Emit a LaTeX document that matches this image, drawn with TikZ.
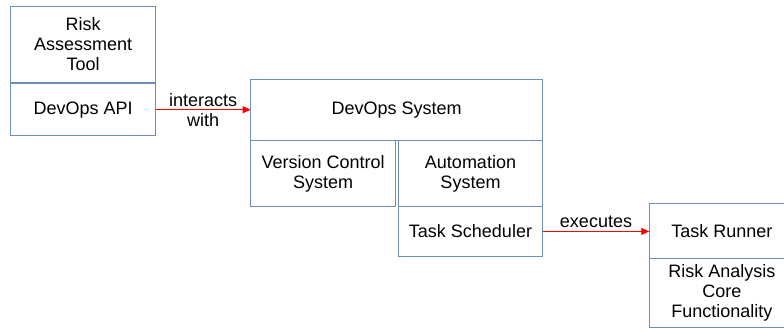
\documentclass[tikz,border=0pt]{standalone}
\usepackage{fontspec}
\setmainfont{Liberation Sans}
\usepackage{tikz}
\usetikzlibrary{positioning, arrows.meta}
\definecolor{boxblue}{HTML}{6C8EBF}

\begin{document}
\begin{tikzpicture}[
						x=1pt, y=-1pt,
						partblock/.style={rectangle, draw=boxblue, line width=1pt, inner sep=0pt, outer sep=0pt, minimum width=145pt, align=center, font=\fontsize{18}{20}\selectfont},
						line/.style={draw, -{Triangle[length=8pt, width=7pt]}, line width=1pt, color=red},
						edgelabel/.style={font=\fontsize{18}{20}\selectfont, align=center, text=black, inner sep=1pt}
						]
						\useasboundingbox (0,0) rectangle (784,329);
						
						\node [partblock, minimum height=75pt] (tool) at (83.2,44.5) {Risk\\Assessment\\Tool};
						\node [partblock, minimum height=52pt, below=1.7pt of tool] (api) {DevOps API};
						
						\node [partblock, minimum width=292pt, minimum height=60.7pt, right=95pt of api] (devops) {DevOps System};
						\node [partblock, minimum height=66.7pt, below right=0pt and 0pt of devops.south west] (vcs) {Version Control\\System};
						\node [partblock, minimum width=144.4pt, minimum height=66.7pt, below left=0pt and 0pt of devops.south east] (automation) {Automation\\System};
						\node [partblock, minimum width=144.4pt, minimum height=49.3pt, below=0pt of automation] (scheduler) {Task Scheduler};
						
						\node [partblock, minimum height=55pt, right=106.6pt of scheduler] (runner) {Task Runner};
						\node [partblock, minimum height=68.7pt, below=0pt of runner] (core) {Risk Analysis\\Core\\Functionality};
						
						\draw [line] (api.east) -- node [edgelabel] {interacts\\with} (devops.west);
						\draw [line] (scheduler.east) -- node [edgelabel, above=2pt] {executes} (runner.west);
					\end{tikzpicture}
\end{document}
